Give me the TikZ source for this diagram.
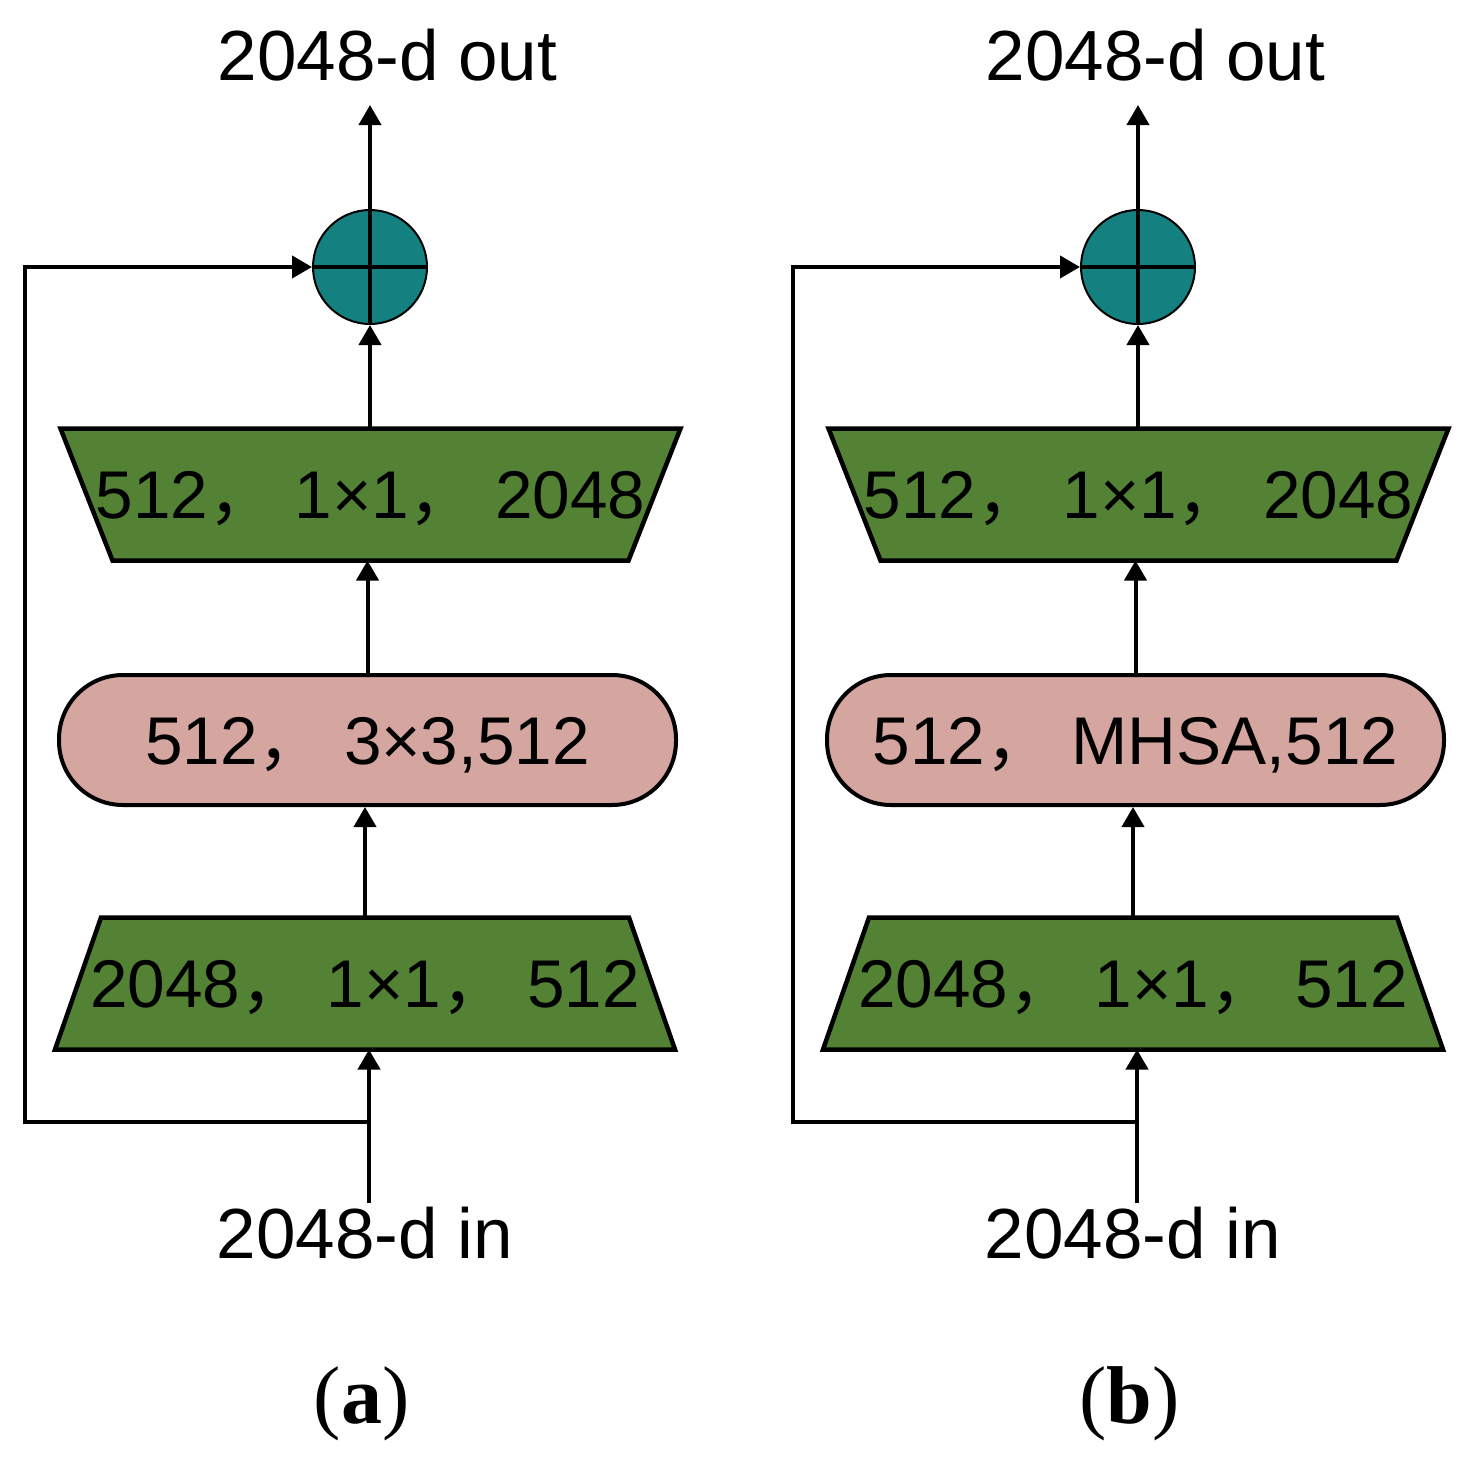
\documentclass[tikz,border=0pt]{standalone}
\usepackage{fontspec}
\setmainfont{Liberation Sans}
\newfontfamily\capfont{Liberation Serif}
\newfontfamily\cjk{Noto Sans CJK SC}
\usetikzlibrary{arrows.meta,backgrounds}
\definecolor{tealc}{RGB}{20,128,128}
\definecolor{greenc}{RGB}{84,130,53}
\definecolor{pinkc}{RGB}{213,166,160}
\newcommand{\fwcomma}{{\cjk ，}\ }
\tikzset{
  arr/.style={line width=4pt, -{Triangle[length=20pt,width=22pt]}},
  link/.style={line width=4pt},
  boxtext/.style={inner sep=0pt, outer sep=0pt, font=\fontsize{67.5}{70}\selectfont, text height=48pt, text depth=0pt},
  trapnode/.style={boxtext, minimum width=620pt, minimum height=132pt},
  trapfill/.style={fill=greenc, draw=black, line width=4.5pt, line join=miter},
  pillbox/.style={boxtext, draw=black, fill=pinkc, line width=4pt, rounded corners=64pt, minimum width=617pt, minimum height=130pt, outer sep=2pt},
  sumnode/.style={circle, draw=black, fill=tealc, line width=2pt, minimum size=114pt, inner sep=0pt},
  iolabel/.style={font=\fontsize{71}{80}\selectfont, anchor=base, inner sep=0pt},
  subcap/.style={font=\capfont\fontsize{82}{90}\selectfont, anchor=base, inner sep=0pt},
}
\newcommand{\resblock}[4]{%
  \node[sumnode] (sum#1) at (#2+370,267) {};
  \node[trapnode] (up#1) at (#2+370.5,494.5) {512\fwcomma 1×1\fwcomma 2048};
  \node[pillbox] (mid#1) at (#2+367.5,740) {#3};
  \node[trapnode] (down#1) at (#2+365,983.5) {2048\fwcomma 1×1\fwcomma 512};
  \node[iolabel] (out#1) at (#2+387.5,80) {2048-d out};
  \node[iolabel] (in#1) at (#2+365,1258) {2048-d in};
  \node[subcap] (cap#1) at (#2+361.5,1423) {(\textbf{#4})};
  \begin{scope}[on background layer]
    \draw[trapfill] (up#1.north west) -- (up#1.north east) -- ([xshift=-52pt]up#1.south east) -- ([xshift=52pt]up#1.south west) -- cycle;
    \draw[trapfill] ([xshift=46pt]down#1.north west) -- ([xshift=-46pt]down#1.north east) -- (down#1.south east) -- (down#1.south west) -- cycle;
  \end{scope}
  \draw[link] (sum#1.north) -- (sum#1.south) (sum#1.west) -- (sum#1.east);
  \coordinate (ot#1) at (#2+370,105);
  \coordinate (start#1) at (#2+369,1203);
  \coordinate (join#1) at (#2+369,1122);
  \coordinate (corner#1) at (#2+25,1122);
  \draw[arr] (sum#1.north) -- (ot#1);
  \draw[arr] (sum#1.south |- up#1.north) -- (sum#1.south);
  \draw[arr] (mid#1.north) -- (mid#1.north |- up#1.south);
  \draw[arr] (down#1.north) -- (down#1.north |- mid#1.south);
  \draw[arr] (start#1) -- (start#1 |- down#1.south);
  \draw[arr] (join#1) -- (corner#1) |- (sum#1.west);
}
\begin{document}
\begin{tikzpicture}[x=1pt, y=-1pt]
  \useasboundingbox (0,0) rectangle (1470,1462);
  \resblock{a}{0}{512\fwcomma 3×3,512}{a}
  \resblock{b}{768}{512\fwcomma MHSA,512}{b}
\end{tikzpicture}
\end{document}
